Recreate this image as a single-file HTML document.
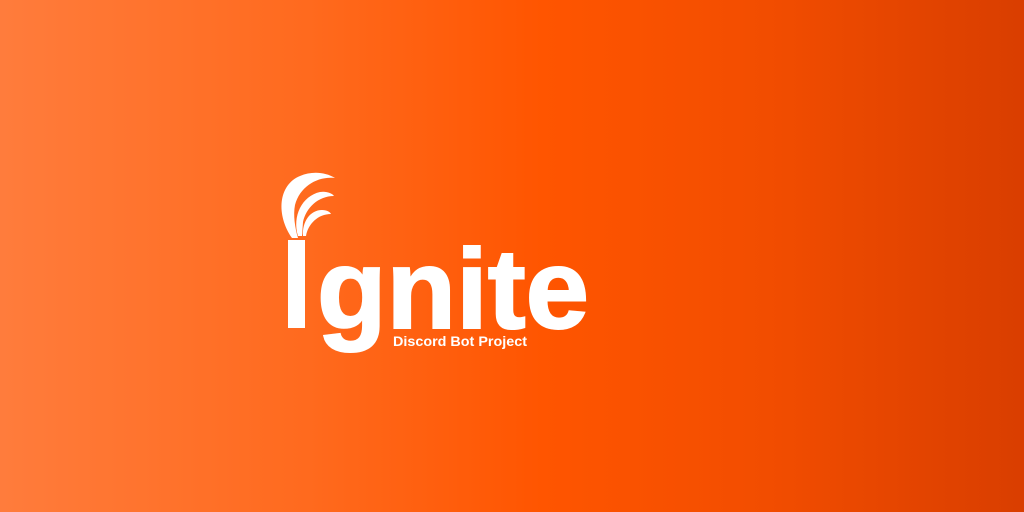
<!DOCTYPE html>
<html><head><meta charset="utf-8"><style>
html,body{margin:0;padding:0;width:1024px;height:512px;overflow:hidden}
.bg{position:absolute;left:0;top:0;width:1024px;height:512px;background:linear-gradient(90deg,#ff7c3c 0%,#ff6a1e 30%,#ff5500 53%,#f24d00 75%,#d93e00 100%)}
</style></head><body>
<div class="bg"></div>
<svg width="1024" height="512" style="position:absolute;left:0;top:0">
  <g fill="#fff">
    <path d="M292 238 C276 215,278 185,300 176 C312 171,325 172,335 178 C318 176,300 186,295 205 C293 215,295 228,298 238 Z"/>
    <path d="M298 236 C292 216,302 196,320 192 C326 191,332 193,334 196 C318 196,306 208,303 222 L302 236 Z"/>
    <path d="M303 236 C302 222,310 210,322 210 C327 210,330 212,331 214 C318 214,308 224,306 236 Z"/>
  </g>
  <rect x="288" y="240" width="17" height="88" fill="#fff"/>
  <text x="317" y="328" font-family="Liberation Sans, sans-serif" font-weight="bold" font-size="113" fill="#fff" stroke="#fff" stroke-width="2" textLength="272" lengthAdjust="spacingAndGlyphs">gnite</text>
  <text x="393" y="346" font-family="Liberation Sans, sans-serif" font-weight="bold" font-size="14" fill="#fff" textLength="134" lengthAdjust="spacingAndGlyphs">Discord Bot Project</text>
</svg>
</body></html>
